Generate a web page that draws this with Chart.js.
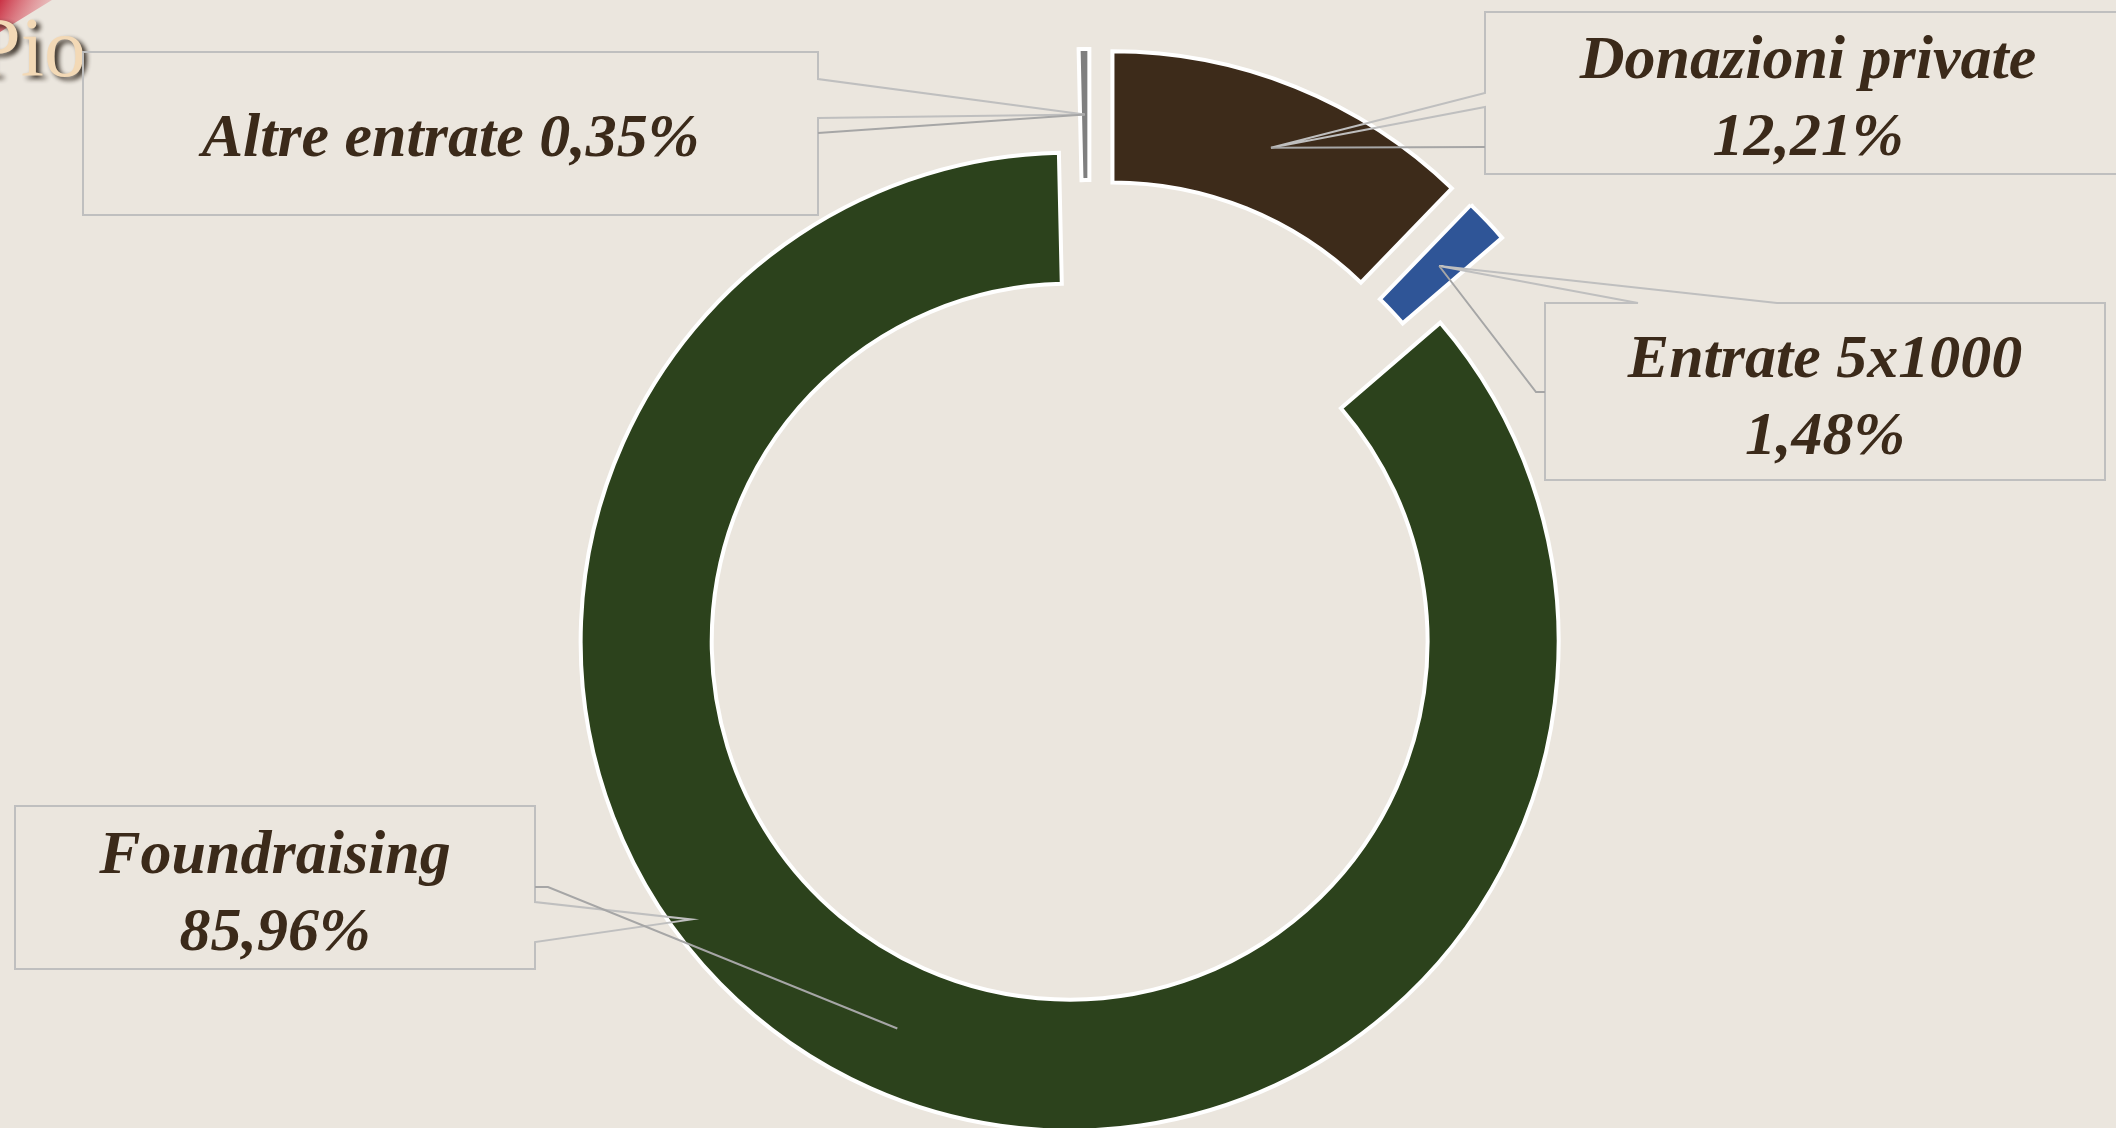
<!DOCTYPE html>
<html lang="it">
<head>
<meta charset="utf-8">
<title>Entrate</title>
<script src="https://cdn.jsdelivr.net/npm/chart.js@4.4.1/dist/chart.umd.min.js"></script>
<style>
  html, body { margin: 0; padding: 0; background: #ebe6de; overflow: hidden; }
  canvas { display: block; }
</style>
</head>
<body>
<canvas id="entrateChart" width="2116" height="1128"></canvas>
<script>
const categorie = ["Donazioni private", "Entrate 5x1000", "Foundraising", "Altre entrate"];
const percentuali = [12.21, 1.48, 85.96, 0.35];
const coloriFette = ["#3d2b1a", "#2f5597", "#2c421c", "#7f7f7f"];

// distanza di esplosione di ogni fetta (px)
const esplosione = [60, 57, 50, 58];

// riquadri delle etichette (callout), uno per fetta
const riquadri = [
    { x: 1485, y: 12, w: 646, h: 162, side: "left", wedge: [93, 107], leader: 147, step: 0 },
    { x: 1545, y: 303, w: 560, h: 177, side: "top", wedge: [1638, 1777], leader: 392, step: 9 },
    { x: 15, y: 806, w: 520, h: 163, side: "right", wedge: [902, 942], leader: 887, step: 13, tip: [0.596, 0.85] },
    { x: 83, y: 52, w: 735, h: 163, side: "right", wedge: [79, 118], leader: 133, step: 0, oneLine: true }
];

function formatPct(v) {
    return v.toFixed(2).replace(".", ",") + "%";
}

// punto dentro una fetta (fa = frazione d'angolo, fr = frazione di spessore)
function puntoArco(arc, fa, fr) {
    const p = arc.getProps(["x", "y", "startAngle", "endAngle", "innerRadius", "outerRadius"]);
    const a = p.startAngle + (p.endAngle - p.startAngle) * fa;
    const r = p.innerRadius + (p.outerRadius - p.innerRadius) * fr;
    return { x: p.x + Math.cos(a) * r, y: p.y + Math.sin(a) * r };
}

// sposta ogni fetta lungo la sua bisettrice
const esplodiPlugin = {
    id: "esplodi",
    afterDatasetUpdate(chart, args) {
        const meta = chart.getDatasetMeta(args.index);
        meta.data.forEach((arc, i) => {
            const mid = (arc.startAngle + arc.endAngle) / 2;
            arc.x += Math.cos(mid) * esplosione[i];
            arc.y += Math.sin(mid) * esplosione[i];
        });
    }
};

const sfondoPlugin = {
    id: "sfondo",
    beforeDraw(chart) {
        const ctx = chart.ctx;
        ctx.save();
        ctx.fillStyle = "#ebe6de";
        ctx.fillRect(0, 0, chart.width, chart.height);

        // angolo rosso del titolo
        const g = ctx.createLinearGradient(0, 0, 50, 25);
        g.addColorStop(0, "rgba(200,40,60,0.95)");
        g.addColorStop(1, "rgba(230,120,130,0.2)");
        ctx.fillStyle = g;
        ctx.beginPath();
        ctx.moveTo(0, 0);
        ctx.lineTo(52, 0);
        ctx.lineTo(0, 32);
        ctx.closePath();
        ctx.fill();

        // resto del titolo tagliato
        ctx.font = '84px "Liberation Serif"';
        ctx.textBaseline = "alphabetic";
        ctx.shadowColor = "rgba(30,20,10,0.9)";
        ctx.shadowOffsetX = 4;
        ctx.shadowOffsetY = 3;
        ctx.shadowBlur = 5;
        ctx.fillStyle = "#f3d9b6";
        ctx.fillText("Pio", -26, 76);
        ctx.restore();
    }
};

const etichettePlugin = {
    id: "etichette",
    afterDatasetsDraw(chart) {
        const ctx = chart.ctx;
        const arcs = chart.getDatasetMeta(0).data;
        ctx.save();
        riquadri.forEach((b, i) => {
            const arc = arcs[i];
            const anchor = puntoArco(arc, 0.5, 0.5);
            const tip = b.tip ? puntoArco(arc, b.tip[0], b.tip[1]) : anchor;

            // riquadro con punta
            ctx.strokeStyle = "#bfbfbf";
            ctx.lineWidth = 2;
            ctx.beginPath();
            if (b.side === "left") {
                ctx.moveTo(b.x + b.w, b.y);
                ctx.lineTo(b.x, b.y);
                ctx.lineTo(b.x, b.wedge[0]);
                ctx.lineTo(tip.x, tip.y);
                ctx.lineTo(b.x, b.wedge[1]);
                ctx.lineTo(b.x, b.y + b.h);
                ctx.lineTo(b.x + b.w, b.y + b.h);
            } else if (b.side === "right") {
                ctx.moveTo(b.x, b.y);
                ctx.lineTo(b.x + b.w, b.y);
                ctx.lineTo(b.x + b.w, b.wedge[0]);
                ctx.lineTo(tip.x, tip.y);
                ctx.lineTo(b.x + b.w, b.wedge[1]);
                ctx.lineTo(b.x + b.w, b.y + b.h);
                ctx.lineTo(b.x, b.y + b.h);
            } else {
                ctx.moveTo(b.x, b.y + b.h);
                ctx.lineTo(b.x, b.y);
                ctx.lineTo(b.wedge[0], b.y);
                ctx.lineTo(tip.x, tip.y);
                ctx.lineTo(b.wedge[1], b.y);
                ctx.lineTo(b.x + b.w, b.y);
                ctx.lineTo(b.x + b.w, b.y + b.h);
            }
            ctx.closePath();
            ctx.stroke();

            // linea guida
            ctx.strokeStyle = "#a6a6a6";
            ctx.beginPath();
            const sx = b.side === "right" ? b.x + b.w : b.x;
            const dir = b.side === "right" ? 1 : -1;
            ctx.moveTo(sx, b.leader);
            ctx.lineTo(sx + dir * b.step, b.leader);
            ctx.lineTo(anchor.x, anchor.y);
            ctx.stroke();

            // testo
            ctx.fillStyle = "#3b2a1a";
            ctx.font = 'italic bold 62px "Liberation Serif"';
            ctx.textAlign = "center";
            ctx.textBaseline = "alphabetic";
            const cx = b.x + b.w / 2;
            const cy = b.y + b.h / 2;
            const pct = formatPct(percentuali[i]);
            if (b.oneLine) {
                ctx.fillText(categorie[i] + " " + pct, cx, cy + 22);
            } else {
                ctx.fillText(categorie[i], cx, cy - 15);
                ctx.fillText(pct, cx, cy + 62);
            }
        });
        ctx.restore();
    }
};

new Chart(document.getElementById("entrateChart"), {
    type: "doughnut",
    data: {
        labels: categorie,
        datasets: [{
            data: percentuali,
            backgroundColor: coloriFette,
            borderColor: "#ffffff",
            borderWidth: 4,
            borderJoinStyle: "miter"
        }]
    },
    options: {
        responsive: false,
        animation: false,
        devicePixelRatio: 1,
        radius: 489,
        cutout: "73.2%",
        layout: { padding: { left: 64, right: 0, top: 64, bottom: 0 } },
        plugins: {
            legend: { display: false },
            tooltip: { enabled: false }
        }
    },
    plugins: [esplodiPlugin, sfondoPlugin, etichettePlugin]
});
</script>
</body>
</html>
